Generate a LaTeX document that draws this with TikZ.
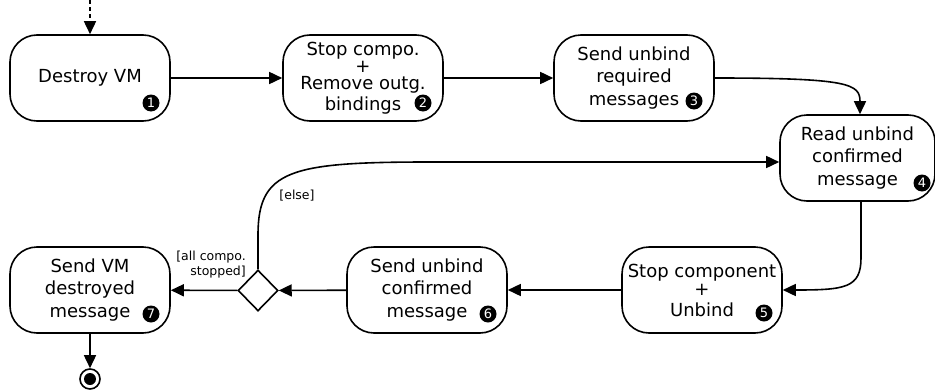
\documentclass[tikz,border=0pt]{standalone}
\usepackage{fontspec}
\setmainfont{DejaVu Sans}
\usetikzlibrary{arrows.meta,shapes.geometric,calc}
\tikzset{
  act/.style={draw, line width=1.6pt, rounded corners=27pt, minimum width=160pt,
    minimum height=86pt, align=center, inner sep=0pt,
    font=\fontsize{18}{22.5}\selectfont},
  badge/.style={circle, fill=black, text=white, inner sep=0pt, minimum size=17pt,
    font=\fontsize{13}{13}\selectfont},
  flow/.style={line width=1.6pt, -{Triangle[length=13pt,width=12pt]}},
  guard/.style={font=\fontsize{12.5}{15}\selectfont, inner sep=0pt},
  choice/.style={draw, diamond, line width=1.6pt, minimum width=40pt, minimum height=41pt,
    inner sep=0pt, aspect=1},
  finalnode/.style={draw, circle, line width=1.6pt, minimum size=20pt, inner sep=0pt}
}
\begin{document}
\begin{tikzpicture}[x=1pt,y=-1pt]
\useasboundingbox (0,0) rectangle (935,391);

\node[act] (n1) at (90,78) {Destroy VM};
\node[act] (n2) at (363,78) {Stop compo.\\[-6pt]+\\[-5pt]Remove outg.\\[-2pt]bindings};
\node[act] (n3) at (634,78) {Send unbind\\required\\messages};
\node[act, minimum width=155pt] (n4) at (857.5,158) {Read unbind\\confirmed\\message};
\node[act] (n5) at (702,290) {Stop component\\[-4pt]+\\[-2pt]Unbind};
\node[act] (n6) at (427,290) {Send unbind\\confirmed\\message};
\node[act] (n7) at (90,290) {Send VM\\destroyed\\message};
\node[choice] (d) at (258,290.5) {};
\node[finalnode] (fin) at (90,379) {};
\fill (fin.center) circle (6pt);

\node[badge] (b1) at (151,103) {1};
\node[badge] (b2) at (423,103) {2};
\node[badge] (b3) at (694,101) {3};
\node[badge] (b4) at (922,183) {4};
\node[badge] (b5) at (764,313) {5};
\node[badge] (b6) at (488,314) {6};
\node[badge] (b7) at (151,314) {7};

\coordinate (start) at (90,0);
\draw[flow, dash pattern=on 4pt off 3pt] (start) -- (n1.north);
\draw[flow] (n1) -- (n2);
\draw[flow] (n2) -- (n3);
\draw[flow] (n3.east) .. controls (850,78) and (860,84) .. (n4.north -| 860,0);
\draw[flow] (n4.south -| 861,0) -- (861,258) .. controls (861,288) and (845,290) .. (n5.east);
\draw[flow] (n5) -- (n6);
\draw[flow] (n6) -- (d);
\draw[flow] (d) -- (n7);
\draw[flow] (d.north) -- (258,235) .. controls (258,170) and (290,162) .. (430,162) -- (n4.west |- 0,162);
\draw[flow] (n7) -- (fin);

\node[guard] (else) at (297,196) {[else]};
\node[guard, align=right, anchor=east] (all) at (246,265) {[all compo.\\stopped]};
\end{tikzpicture}
\end{document}
